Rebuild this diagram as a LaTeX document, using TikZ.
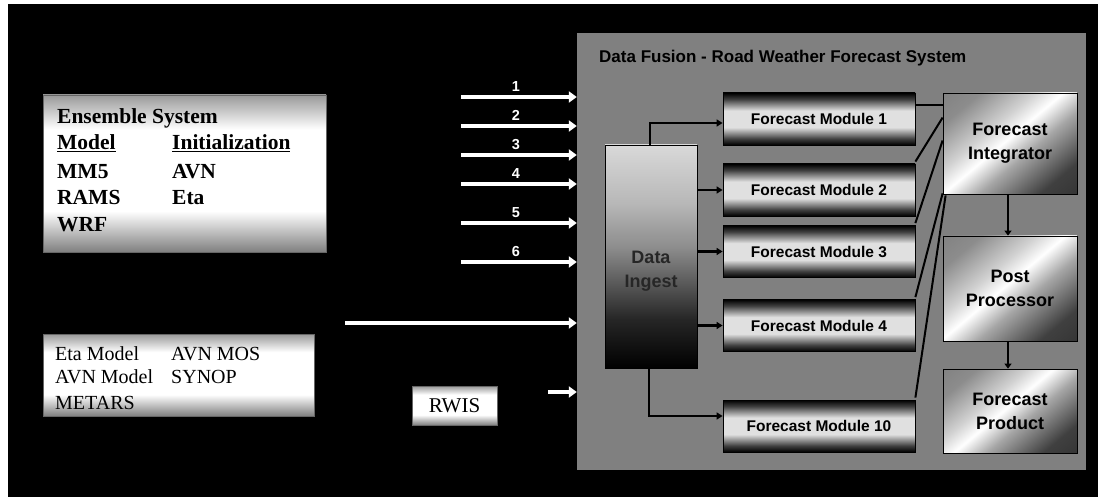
\documentclass[tikz,border=0pt]{standalone}
\usepackage{fontspec}
\setmainfont{Liberation Serif}
\newfontfamily\arial{Liberation Sans}
\usetikzlibrary{arrows.meta}
\pgfdeclareverticalshading{fmshade}{100bp}{color(0bp)=(black); color(25bp)=(black); color(31bp)=(black!75); color(42bp)=(black!12); color(58bp)=(black!12); color(69bp)=(black!75); color(75bp)=(black); color(100bp)=(black)}
\pgfdeclareverticalshading{dishade}{100bp}{color(0bp)=(black); color(25bp)=(black); color(36bp)=(black!85); color(52bp)=(black!45); color(62bp)=(black!28); color(75bp)=(black!15); color(100bp)=(black!15)}
\pgfdeclareverticalshading{boxshade}{100bp}{color(0bp)=(black!50); color(25bp)=(black!50); color(38bp)=(white); color(64bp)=(white); color(75bp)=(black!40); color(100bp)=(black!40)}
\pgfdeclareverticalshading{rbshade}{100bp}{color(0bp)=(black!85); color(25bp)=(black!75); color(42bp)=(black!35); color(52bp)=(white); color(60bp)=(black!18); color(75bp)=(black!45); color(100bp)=(black!55)}
\tikzset{
  panelbox/.style={fill=black!50, minimum width=509pt, minimum height=437pt, inner sep=0pt},
  ebox/.style={draw=black!60, line width=0.6pt, shading=boxshade, inner sep=0pt},
  serifbold/.style={font=\bfseries\fontsize{21.5}{24}\selectfont, anchor=base west, inner sep=0pt},
  serifreg/.style={font=\fontsize{20}{22}\selectfont, anchor=base west, inner sep=0pt},
  fmbox/.style={draw=black, line width=0.8pt, shading=fmshade, minimum width=192pt, minimum height=52pt, inner sep=0pt, font=\arial\bfseries\fontsize{15.5}{17}\selectfont},
  dibox/.style={draw=black, line width=0.8pt, shading=dishade, minimum width=92pt, minimum height=223pt, inner sep=0pt},
  ditext/.style={font=\arial\bfseries\fontsize{18}{24}\selectfont, text=black!85, align=center, inner sep=0pt},
  rbox/.style={draw=black, line width=0.8pt, shading=rbshade, shading angle=40, minimum width=134pt, inner sep=0pt, align=center, font=\arial\bfseries\fontsize{18}{24}\selectfont},
  ptitle/.style={font=\arial\bfseries\fontsize{17}{20}\selectfont, text=black, anchor=base west, inner sep=0pt},
  num/.style={font=\arial\bfseries\fontsize{14.5}{16}\selectfont, text=white, anchor=base, inner sep=0pt},
  warrow/.style={draw=white, line width=4.5pt, -{Triangle[length=8pt,width=11pt]}},
  conn/.style={draw=black, line width=2.5pt, -{Triangle[length=6pt,width=7pt]}},
  vconn/.style={draw=black, line width=2.5pt, -{Triangle[length=5pt,width=7pt]}},
  link/.style={draw=black, line width=2pt},
}
\begin{document}
\begin{tikzpicture}[x=1pt,y=-1pt]
\useasboundingbox (0,0) rectangle (1098,497);
\fill[white] (0,0) rectangle (1098,497);
\fill[black] (8,4) rectangle (1098,497);

% left boxes
\node[ebox, minimum width=283pt, minimum height=157pt] (ens) at (184.5,173.5) {};
\node[serifbold] (enst) at (57,124) {Ensemble System};
\node[serifbold] (modh) at (57,150) {\underline{Model}};
\node[serifbold] (inih) at (172,150) {\underline{Initialization}};
\node[serifbold] (mm5) at (57,179) {MM5};
\node[serifbold] (avn) at (172,179) {AVN};
\node[serifbold] (rams) at (57,205) {RAMS};
\node[serifbold] (eta) at (172,205) {Eta};
\node[serifbold] (wrf) at (57,232) {WRF};

\node[ebox, minimum width=271pt, minimum height=82pt] (obs) at (178.5,375) {};
\node[serifreg] (etam) at (55,360) {Eta Model};
\node[serifreg] (avnmos) at (171,360) {AVN MOS};
\node[serifreg] (avnm) at (55,383) {AVN Model};
\node[serifreg] (synop) at (171,383) {SYNOP};
\node[serifreg] (metars) at (55,409) {METARS};

\node[ebox, minimum width=85pt, minimum height=39pt, font=\fontsize{21}{23}\selectfont, text depth=0pt] (rwis) at (454.5,405.5) {RWIS};

% panel
\node[panelbox] (panel) at (831.5,251.5) {};
\node[ptitle] (ttl) at (599,63) {Data Fusion - Road Weather Forecast System};

\node[dibox] (di) at (651,256.5) {};
\node[ditext] (dit) at (651,271) {Data\\Ingest};

\node[fmbox] (fm1) at (819,119) {Forecast Module 1};
\node[fmbox] (fm2) at (819,190) {Forecast Module 2};
\node[fmbox] (fm3) at (819,251.5) {Forecast Module 3};
\node[fmbox] (fm4) at (819,325.5) {Forecast Module 4};
\node[fmbox] (fm10) at (819,426) {Forecast Module 10};

\node[rbox, minimum height=101pt] (fi) at (1010,143.5) {Forecast\\Integrator};
\node[rbox, minimum height=105pt] (pp) at (1010,288.5) {Post\\Processor};
\node[rbox, minimum height=84pt] (fp) at (1010,411) {Forecast\\Product};

% white input arrows
\coordinate (a1) at (461,97);
\coordinate (a2) at (461,126);
\coordinate (a3) at (461,155);
\coordinate (a4) at (461,184);
\coordinate (a5) at (461,223);
\coordinate (a6) at (461,262);
\coordinate (a7) at (345,323);
\coordinate (a8) at (548,392);
\foreach \i in {1,...,8} {\draw[warrow] (a\i) -- (a\i -| panel.west);}
\node[num] (n1) at (516,92) {1};
\node[num] (n2) at (516,121) {2};
\node[num] (n3) at (516,150) {3};
\node[num] (n4) at (516,179) {4};
\node[num] (n5) at (516,218) {5};
\node[num] (n6) at (516,257) {6};

% connectors
\draw[conn] ([xshift=-1pt]di.north) |- ([yshift=-4pt]fm1.west);
\draw[conn] (fm2.west -| di.east) -- (fm2.west);
\draw[conn] (fm3.west -| di.east) -- (fm3.west);
\draw[conn] (fm4.west -| di.east) -- (fm4.west);
\draw[conn] ([xshift=-2pt]di.south) |- ([yshift=10pt]fm10.west);

\draw[link] ([yshift=14pt]fm1.east) -- ([yshift=14pt]fm1.east -| fi.west);
\draw[link] ([yshift=2pt]fm2.north east) -- ([yshift=-25pt]fi.north west);
\draw[link] ([yshift=2pt]fm3.north east) -- ([yshift=3pt]fi.west);
\draw[link] ([yshift=2pt]fm4.north east) -- ([yshift=1pt]fi.south west);
\draw[link] ([yshift=2pt]fm10.north east) -- ([xshift=3pt,yshift=-1pt]fi.south west);

\draw[vconn] ([xshift=-2pt]fi.south) -- ([xshift=-2pt]pp.north);
\draw[vconn] ([xshift=-2pt]pp.south) -- ([xshift=-2pt]fp.north);
\end{tikzpicture}
\end{document}
